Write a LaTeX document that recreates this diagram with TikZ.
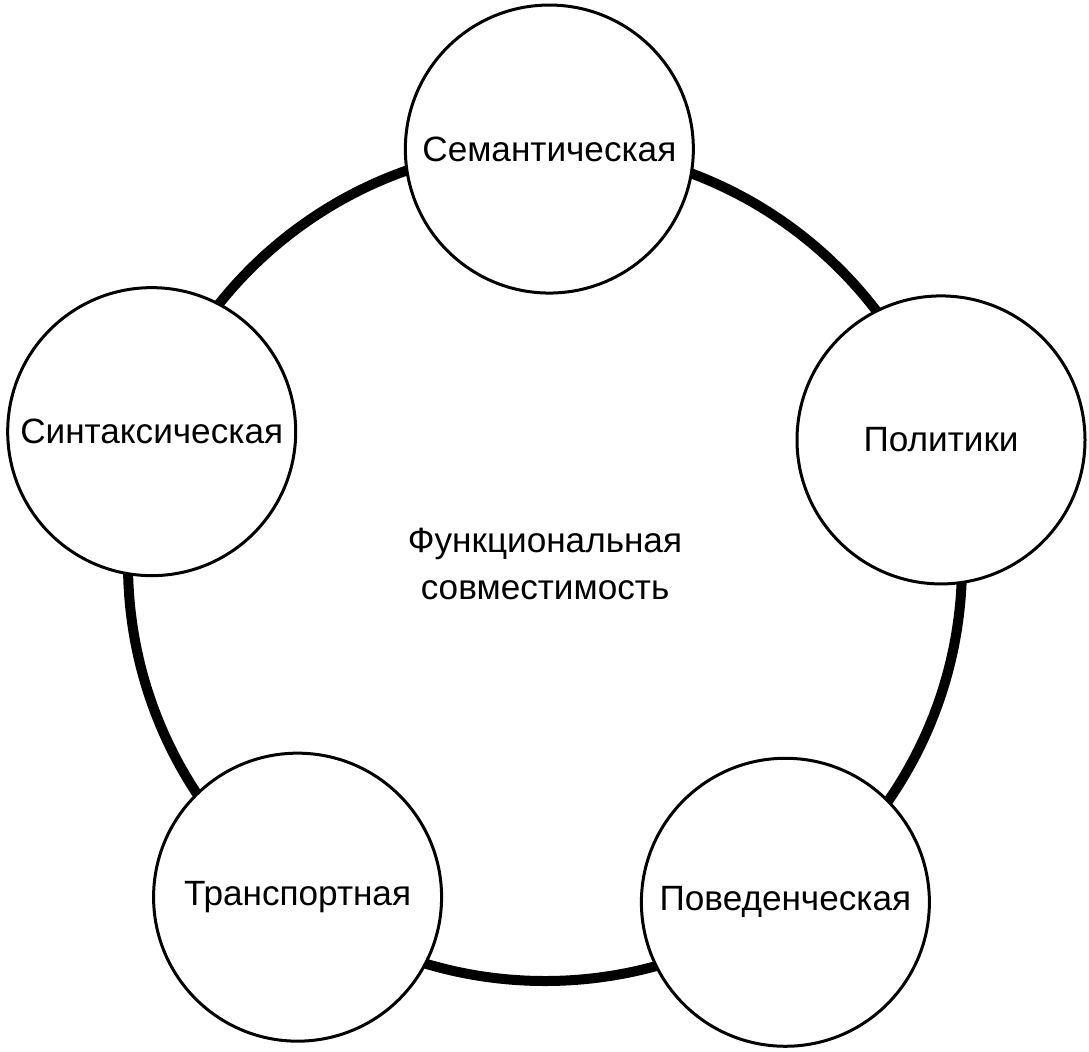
\documentclass[tikz,border=0pt]{standalone}
\usepackage{fontspec}
\setmainfont{Liberation Sans}
\usepackage{tikz}
\usetikzlibrary{positioning,calc}

\tikzset{
  ring/.style={circle, draw=black, line width=0.1cm, minimum size=8.34cm, inner sep=0pt,
    align=center, font=\fontsize{10}{13.5}\selectfont},
  kind/.style={circle, draw=black, line width=0.03cm, fill=white, minimum size=2.88cm,
    inner sep=0pt, font=\fontsize{10}{12}\selectfont}
}

\begin{document}
\begin{tikzpicture}
  \useasboundingbox (0,0) rectangle (10.89,-10.51);
  \node[ring] (main) at (5.45,-5.64) {Функциональная\\совместимость};
  \node[kind] (sem) at ($(main.center)+(89.4:4.15)$) {Семантическая};
  \node[kind] (pol) at ($(main.center)+(17.4:4.15)$) {Политики};
  \node[kind] (syn) at ($(main.center)+(161.4:4.15)$) {Синтаксическая};
  \node[kind] (tra) at ($(main.center)+(233.4:4.15)$) {Транспортная};
  \node[kind] (beh) at ($(main.center)+(305.4:4.15)$) {Поведенческая};
\end{tikzpicture}
\end{document}
